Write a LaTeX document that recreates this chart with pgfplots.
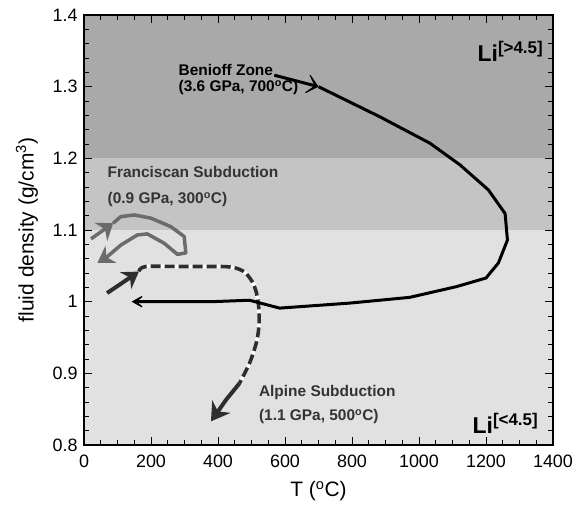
\documentclass[border=0pt]{standalone}
\usepackage{fontspec}
\setmainfont{Liberation Sans}
\usepackage{pgfplots}
\pgfplotsset{compat=1.18}
\usetikzlibrary{arrows.meta}
\definecolor{bandA}{HTML}{A9A9A9}
\definecolor{bandB}{HTML}{C4C4C4}
\definecolor{bandC}{HTML}{E1E1E1}
\definecolor{fran}{HTML}{6B6B6B}
\definecolor{alp}{HTML}{2E2E2E}
\definecolor{txt}{HTML}{333333}
\begin{document}
\begin{tikzpicture}
\begin{axis}[
  scale only axis, width=469bp, height=430bp,
  at={(0,0)}, anchor=south west,
  xmin=0, xmax=1400, ymin=0.8, ymax=1.4,
  xtick={0,200,400,600,800,1000,1200,1400},
  ytick={0.8,0.9,1,1.1,1.2,1.3,1.4},
  minor x tick num=3, minor y tick num=4,
  tick align=inside, xtick pos=both, ytick pos=both,
  major tick length=8bp, minor tick length=5bp,
  every tick/.style={black, line width=0.9bp},
  axis line style={black, line width=1.2bp},
  axis on top,
  /pgf/number format/1000 sep={},
  /pgf/number format/assume math mode=true,
  tick label style={font=\fontsize{18}{20}\selectfont},
  xticklabel style={yshift=-6bp},
  yticklabel style={xshift=-3bp},
  label style={font=\fontsize{21}{23}\selectfont},
  xlabel={T (\textsuperscript{o}C)},
  ylabel={fluid density (g/cm\textsuperscript{3})},
  xlabel style={at={(axis description cs:0.5,-0.107)}, anchor=center},
  ylabel style={at={(axis description cs:-0.1215,0.5)}, anchor=center},
]
% background bands
\addplot[draw=none, fill=bandC] coordinates {(0,0.8) (1400,0.8) (1400,1.1) (0,1.1)} -- cycle;
\addplot[draw=none, fill=bandB] coordinates {(0,1.1) (1400,1.1) (1400,1.2) (0,1.2)} -- cycle;
\addplot[draw=none, fill=bandA] coordinates {(0,1.2) (1400,1.2) (1400,1.4) (0,1.4)} -- cycle;

% Franciscan
\addplot[fran, line width=3.5bp, -{Stealth[length=15bp,width=22bp]}] coordinates {(21,1.0876) (87,1.1095)};
\addplot[fran, line width=3.5bp, line join=round, -{Stealth[length=16bp,width=20bp]}] coordinates {
 (87,1.1095) (110,1.1187) (150,1.121) (200,1.1165) (259,1.1047) (299,1.091) (304,1.068)
 (279,1.066) (239,1.0816) (189,1.0946) (159,1.093) (110,1.079) (70,1.063) (40,1.054)};

% Alpine
\addplot[alp, line width=4bp, -{Stealth[length=16bp,width=20bp]}] coordinates {(69,1.012) (164,1.042)};
\addplot[white, line width=3.6bp, smooth] coordinates {
 (164,1.042) (184,1.049) (300,1.049) (413,1.049) (452,1.047) (480,1.041) (502,1.028) (515,1.012)
 (522,0.990) (522,0.965) (514,0.942) (494,0.914) (464,0.886)};
\addplot[alp, line width=3.6bp, smooth, dash pattern=on 10bp off 4bp] coordinates {
 (164,1.042) (184,1.049) (300,1.049) (413,1.049) (452,1.047) (480,1.041) (502,1.028) (515,1.012)
 (522,0.990) (522,0.965) (514,0.942) (494,0.914) (464,0.886)};
\addplot[alp, line width=4bp, -{Stealth[length=18bp,width=22bp]}] coordinates {(464,0.886) (424,0.863) (379,0.833)};

% Benioff
\addplot[black, line width=3bp, -{Stealth[length=16bp,width=28bp,inset=12bp]}] coordinates {(568,1.316) (700,1.300)};
\addplot[black, line width=3bp, line join=round, -{Stealth[length=17bp,width=19bp,inset=12bp]}] coordinates {
 (700,1.300) (883,1.258) (1033,1.221) (1122,1.191) (1207,1.156) (1257,1.123) (1264,1.086)
 (1237,1.054) (1200,1.033) (1112,1.021) (972,1.006) (793,0.998) (584,0.991) (494,1.002)
 (383,1.000) (142,1.000)};

% annotations
\node[anchor=base west, text=black, font=\bfseries\fontsize{15.5}{17}\selectfont] at (axis cs:272,1.316) {Benioff Zone};
\node[anchor=base west, text=black, font=\bfseries\fontsize{15.5}{17}\selectfont] at (axis cs:272,1.2926) {(3.6 GPa, 700\textsuperscript{o}C)};
\node[anchor=base west, text=txt, font=\bfseries\fontsize{15.5}{17}\selectfont] at (axis cs:60,1.1736) {Franciscan Subduction};
\node[anchor=base west, text=txt, font=\bfseries\fontsize{15.5}{17}\selectfont] at (axis cs:60,1.1364) {(0.9 GPa, 300\textsuperscript{o}C)};
\node[anchor=base west, text=txt, font=\bfseries\fontsize{15.5}{17}\selectfont] at (axis cs:512,0.8677) {Alpine Subduction};
\node[anchor=base west, text=txt, font=\bfseries\fontsize{15.5}{17}\selectfont] at (axis cs:512,0.8342) {(1.1 GPa, 500\textsuperscript{o}C)};
\node[anchor=base east, inner sep=0pt, font=\bfseries\fontsize{23}{25}\selectfont] at (axis cs:1370,1.335) {Li\raisebox{8bp}{\fontsize{17}{18}\selectfont [>4.5]}};
\node[anchor=base east, inner sep=0pt, font=\bfseries\fontsize{23}{25}\selectfont] at (axis cs:1355,0.8167) {Li\raisebox{8bp}{\fontsize{17}{18}\selectfont [<4.5]}};
\end{axis}
\pgfresetboundingbox
\useasboundingbox (-84bp,-61bp) rectangle (499bp,445bp);
\end{tikzpicture}
\end{document}
